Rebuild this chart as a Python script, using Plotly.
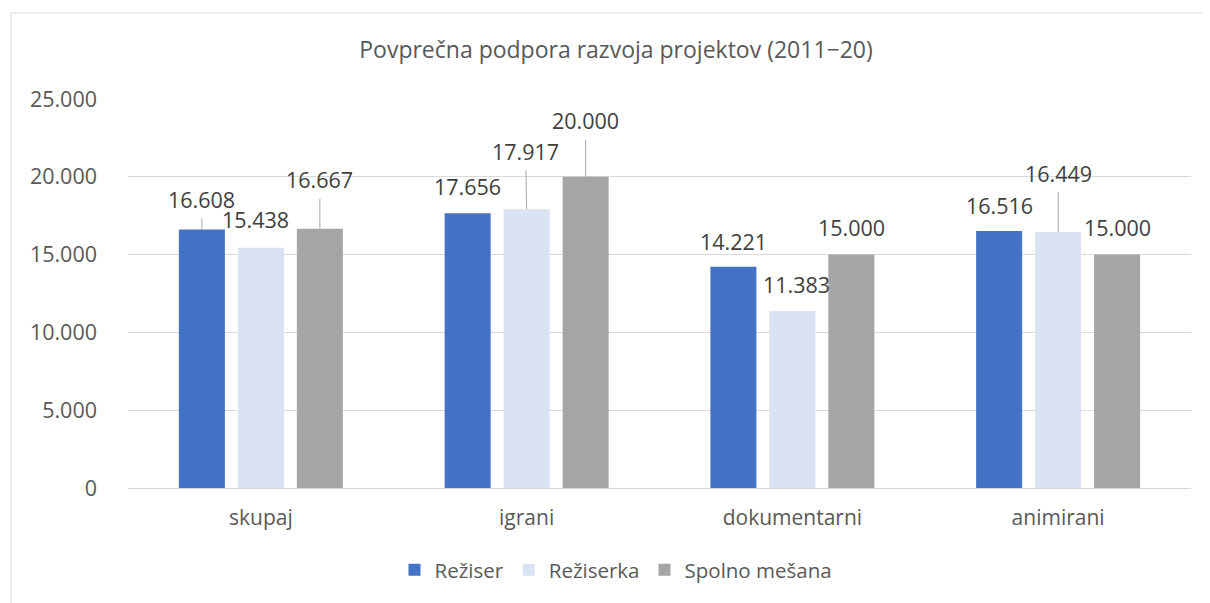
import plotly.graph_objects as go

categories = ["skupaj", "igrani", "dokumentarni", "animirani"]
series_names = ["Režiser", "Režiserka", "Spolno mešana"]
rezisar = [16608, 17656, 14221, 16516]
reziserka = [15438, 17917, 11383, 16449]
spolno = [16667, 20000, 15000, 15000]
tick_values = [0, 5000, 10000, 15000, 20000, 25000]
title_text = "Povprečna podpora razvoja projektov (2011−20)"

colors = ["#4472C4", "#DAE3F3", "#A5A5A5"]
series_values = [rezisar, reziserka, spolno]

# label placement (pixel offsets of label centre from bar top; negative = up) and leader-line flags
label_dx = [[0, 0, 0, 0], [-5, -1, 4, 0], [0, 0, 0, 0]]
label_dy = [[-30, -27, -25, -26], [-28, -58, -26, -59], [-49, -56, -27, -27]]
leader = [[True, False, False, False], [False, True, False, True], [True, True, False, False]]

FONT = "Open Sans"
BARGAP = 0.334
slot = (1 - BARGAP) / 3

# page body has an 8px margin; convert window pixel coords to figure coords
OFF = 8
W, H = 1210, 603
PL, PR, PT, PB = 128, 1191, 99, 488  # plot area in window coords
L, T = PL - OFF, PT - OFF
R, B = W - (PR - OFF), H - (PB - OFF)
pw, ph = PR - PL, PB - PT


def fmt(v):
    return f"{v:,}".replace(",", ".")


def px_to_paper_x(xw):
    return (xw - PL) / pw


def px_to_paper_y(yw):
    return (PB - yw) / ph


fig = go.Figure()
for name, vals, col in zip(series_names, series_values, colors):
    fig.add_trace(go.Bar(x=categories, y=vals, name=name, marker=dict(color=col, line=dict(width=0))))

annotations = []
for j, vals in enumerate(series_values):
    for i, v in enumerate(vals):
        xpos = i + (j - 1) * slot
        common = dict(x=xpos, y=v, xref="x", yref="y", text=fmt(v),
                      font=dict(family=FONT, size=21.5, color="#404040"))
        if leader[j][i]:
            annotations.append(dict(**common, showarrow=True, arrowhead=0, arrowwidth=1,
                                    arrowcolor="#A6A6A6", ax=label_dx[j][i], ay=label_dy[j][i],
                                    standoff=0, borderpad=4))
        else:
            annotations.append(dict(**common, showarrow=False, xshift=label_dx[j][i],
                                    yshift=-label_dy[j][i], yanchor="middle"))

fig.update_layout(
    width=W, height=H,
    margin=dict(l=L, r=R, t=T, b=B, autoexpand=False),
    paper_bgcolor="white", plot_bgcolor="white",
    barmode="group", bargap=BARGAP, bargroupgap=0.22,
    separators=",.",
    font=dict(family=FONT, size=20, color="#595959"),
    title=dict(text=title_text, x=(616 - OFF) / W, xanchor="center", y=1 - (50 - OFF) / H,
               yanchor="middle", font=dict(family=FONT, size=23, color="#595959")),
    legend=dict(orientation="h", x=px_to_paper_x(616), xanchor="center", y=px_to_paper_y(570),
                yanchor="middle", font=dict(family=FONT, size=20.5, color="#595959"),
                itemwidth=30, traceorder="normal"),
    annotations=annotations,
    shapes=[dict(type="rect", xref="paper", yref="paper",
                 x0=px_to_paper_x(11), x1=px_to_paper_x(1225),
                 y0=px_to_paper_y(620), y1=px_to_paper_y(13),
                 line=dict(color="#D9D9D9", width=1), fillcolor="rgba(0,0,0,0)", layer="below")],
)
fig.update_yaxes(range=[0, 25000], tickvals=tick_values, tickformat=",d", showgrid=True,
                 gridcolor="#D9D9D9", gridwidth=1, zeroline=False, showline=False,
                 ticks="", ticklabelstandoff=30, tickfont=dict(family=FONT, size=21.5, color="#595959"))
fig.update_xaxes(showgrid=False, showline=True, linecolor="#D9D9D9", linewidth=1, ticks="",
                 ticklabelstandoff=11, tickfont=dict(family=FONT, size=21, color="#595959"))

fig.write_html("out.html")
